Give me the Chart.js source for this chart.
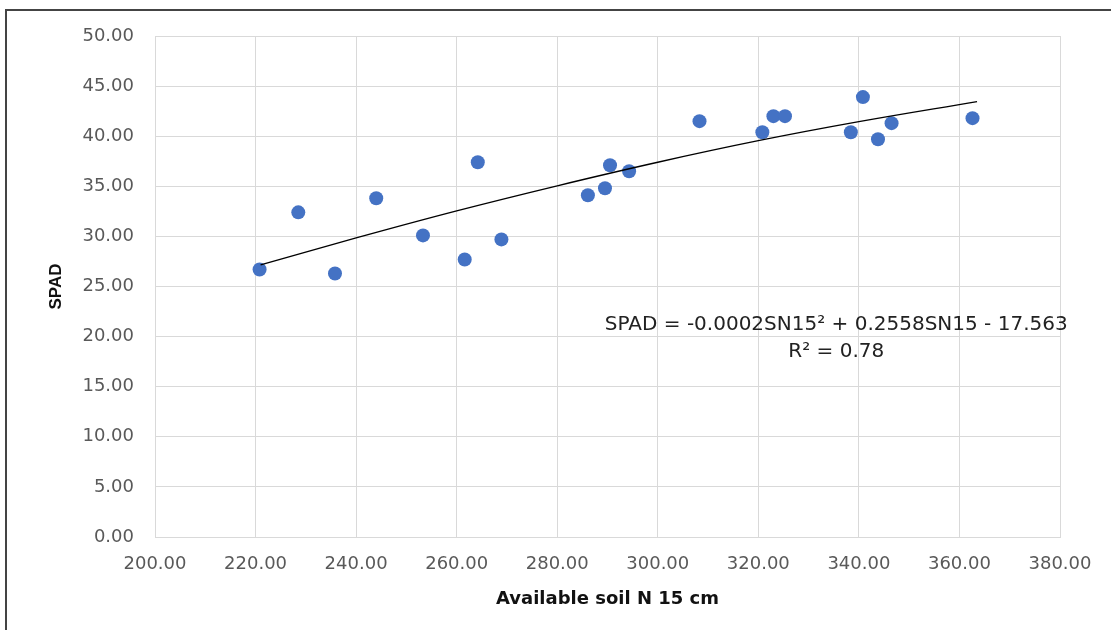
<!DOCTYPE html>
<html>
<head>
<meta charset="utf-8">
<script src="https://cdn.jsdelivr.net/npm/chart.js@4.4.1/dist/chart.umd.min.js"></script>
<style>
    html, body { margin: 0; padding: 0; background: #fff; }
    #wrap { width: 1111px; height: 630px; position: relative; }
</style>
</head>
<body>
<div id="wrap"><canvas id="spadChart" width="1111" height="630"></canvas></div>
<script>
// Observed points: available soil N at 15 cm vs SPAD reading
const soilN = [220.8, 228.5, 235.8, 244.0, 253.3, 261.6, 264.2, 268.9, 286.1, 289.5, 290.5,
               294.3, 308.3, 320.8, 323.0, 325.3, 338.4, 340.8, 343.8, 346.5, 362.6];
const spad = [26.7, 32.4, 26.3, 33.8, 30.1, 27.7, 37.4, 29.7, 34.1, 34.8, 37.1,
              36.5, 41.5, 40.4, 42.0, 42.0, 40.4, 43.9, 39.7, 41.3, 41.8];

// Polynomial trend line
const trendX = [221.0, 240.0, 260.0, 280.0, 300.0, 320.0, 340.0, 363.5];
const trendY = [27.15, 29.85, 32.55, 35.05, 37.40, 39.55, 41.45, 43.45];

// Axis ranges
const xMin = 200, xMax = 380, xStep = 20;
const yMin = 0, yMax = 50, yStep = 5;

const equationText = 'SPAD = -0.0002SN15\u00B2 + 0.2558SN15 - 17.563';
const rSquaredText = 'R\u00B2 = 0.78';

const pointData = soilN.map((x, i) => ({ x: x, y: spad[i] }));
const trendData = trendX.map((x, i) => ({ x: x, y: trendY[i] }));

// white background + the outer frame edges seen at top and left
const framePlugin = {
    id: 'frame',
    beforeDraw(chart) {
        const ctx = chart.ctx;
        ctx.save();
        ctx.fillStyle = '#fff';
        ctx.fillRect(0, 0, chart.width, chart.height);
        ctx.strokeStyle = '#444';
        ctx.lineWidth = 2;
        ctx.beginPath();
        ctx.moveTo(6, chart.height);
        ctx.lineTo(6, 10);
        ctx.lineTo(chart.width, 10);
        ctx.stroke();
        ctx.restore();
    }
};

// equation label of the trend line
const equationPlugin = {
    id: 'equation',
    afterDatasetsDraw(chart) {
        const ctx = chart.ctx;
        const xs = chart.scales.x, ys = chart.scales.y;
        ctx.save();
        ctx.fillStyle = '#222';
        ctx.font = '20px "DejaVu Sans"';
        ctx.textAlign = 'center';
        ctx.textBaseline = 'middle';
        const cx = xs.getPixelForValue(335.5);
        ctx.fillText(equationText, cx, ys.getPixelForValue(21.2));
        ctx.fillText(rSquaredText, cx, ys.getPixelForValue(18.5));
        ctx.restore();
    }
};

const gridColor = '#d9d9d9';
const tickColor = '#595959';

new Chart(document.getElementById('spadChart').getContext('2d'), {
    type: 'scatter',
    data: {
        datasets: [
            {
                type: 'line',
                label: 'Trend',
                data: trendData,
                borderColor: '#000',
                borderWidth: 1.3,
                pointRadius: 0,
                fill: false,
                tension: 0.4
            },
            {
                label: 'SPAD',
                data: pointData,
                backgroundColor: '#4472C4',
                borderColor: '#4472C4',
                borderWidth: 0,
                pointRadius: 7,
                pointHoverRadius: 7
            }
        ]
    },
    options: {
        responsive: false,
        animation: false,
        layout: { padding: { left: 46, right: 51, top: 36, bottom: 20 } },
        plugins: {
            legend: { display: false },
            tooltip: { enabled: false }
        },
        scales: {
            x: {
                type: 'linear',
                min: xMin,
                max: xMax,
                afterFit(scale) { scale.height = 73; },
                grid: { color: gridColor, lineWidth: 1, drawTicks: false },
                border: { color: gridColor },
                ticks: {
                    stepSize: xStep,
                    padding: 17,
                    color: tickColor,
                    font: { family: '"DejaVu Sans"', size: 18 },
                    callback: v => Number(v).toFixed(2)
                },
                title: {
                    display: true,
                    text: 'Available soil N 15 cm',
                    color: '#111',
                    font: { family: '"DejaVu Sans"', size: 18, weight: 'bold' },
                    padding: { top: 0, bottom: 0 }
                }
            },
            y: {
                min: yMin,
                max: yMax,
                afterFit(scale) { scale.width = 109; },
                grid: { color: gridColor, lineWidth: 1, drawTicks: false },
                border: { color: gridColor },
                ticks: {
                    stepSize: yStep,
                    padding: 21,
                    color: tickColor,
                    font: { family: '"DejaVu Sans"', size: 18 },
                    callback: v => Number(v).toFixed(2)
                },
                title: {
                    display: true,
                    text: 'SPAD',
                    color: '#111',
                    font: { family: '"Liberation Sans"', size: 17, weight: 'bold' },
                    padding: { top: 0, bottom: 0 }
                }
            }
        }
    },
    plugins: [framePlugin, equationPlugin]
});
</script>
</body>
</html>
